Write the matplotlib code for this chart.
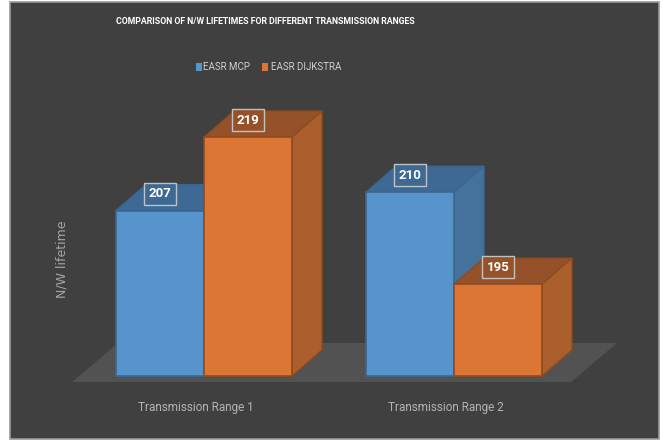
import matplotlib
matplotlib.use("Agg")
import matplotlib.pyplot as plt
from matplotlib.patches import Polygon, Rectangle

categories = ["Transmission Range 1", "Transmission Range 2"]
series_names = ["EASR MCP", "EASR DIJKSTRA"]
mcp = [207, 210]
dijkstra = [219, 195]
values = [mcp, dijkstra]

W, H = 663, 441
fig = plt.figure(figsize=(W / 100, H / 100), dpi=100, facecolor="white")

BG = "#404040"
# dark chart area with light border
fig.patches.append(Rectangle((10 / W, 2 / H), 649 / W, 437 / H, transform=fig.transFigure,
                             facecolor=BG, edgecolor="#9a9a9a", linewidth=1.2, zorder=-5))

ax = fig.add_axes([10 / W, 2 / H, 649 / W, 437 / H])
ax.set_facecolor("none")
ax.set_axis_off()

px_x = 250.0      # pixels per category unit
px_y = 6.125      # pixels per value unit
base = 180.0
ax.set_xlim((10 - 204) / px_x, (659 - 204) / px_x)
ax.set_ylim(base - (439 - 376) / px_y, base + (376 - 2) / px_y)

bw = 88 / px_x
ddx = 30 / px_x
ddy = 26 / px_y

front = ["#5794cb", "#dc7634"]
top = ["#3d6994", "#95522a"]
side = ["#45719d", "#ab5f2c"]
edge = ["#3a6790", "#8f4a1e"]

# floor
fl_x0 = -0.5 - 0.028
fl_x1 = 1.5 - 0.032
fdx = 46 / px_x
fdy = 39 / px_y
fy = base - 6 / px_y
ax.add_patch(Polygon([(fl_x0, fy), (fl_x1, fy), (fl_x1 + fdx, fy + fdy), (fl_x0 + fdx, fy + fdy)],
                     closed=True, facecolor="#525252", edgecolor="none", zorder=1))

FONT = ["Roboto", "DejaVu Sans"]

for gi in range(len(categories)):
    for si in range(len(series_names)):
        v = values[si][gi]
        x0 = gi + (si - 1) * bw
        x1 = x0 + bw
        z = 2 + gi * 10 + si * 3
        # top
        ax.add_patch(Polygon([(x0, v), (x1, v), (x1 + ddx, v + ddy), (x0 + ddx, v + ddy)],
                             closed=True, facecolor=top[si], edgecolor=edge[si], linewidth=1, zorder=z))
        # side
        ax.add_patch(Polygon([(x1, base), (x1 + ddx, base + ddy), (x1 + ddx, v + ddy), (x1, v)],
                             closed=True, facecolor=side[si], edgecolor=edge[si], linewidth=1, zorder=z))
        # front
        ax.bar(x0, v - base, width=bw, bottom=base, align="edge", color=front[si],
               edgecolor=edge[si], linewidth=1.2, zorder=z + 1)
        ax.text(x0 + bw / 2, v + 17 / px_y, f"{v}", ha="center", va="center", color="white",
                fontsize=9.5, fontweight="bold", family=FONT, zorder=50,
                bbox=dict(boxstyle="square,pad=0.35", facecolor=top[si], edgecolor="#c8c8c8",
                          linewidth=1, alpha=0.95))

for gi, cat in enumerate(categories):
    ax.text(gi - 8 / px_x, base - (407 - 376) / px_y, cat, ha="center", va="center",
            color="#b4b4b4", fontsize=8.5, family=FONT, zorder=50)

# title
fig.text(265 / W, 1 - 22 / H, "COMPARISON OF N/W LIFETIMES FOR DIFFERENT TRANSMISSION RANGES",
         ha="center", va="center", color="white", fontsize=6.3, fontweight="bold", family=FONT)

# legend
leg_y = 1 - 67 / H
fig.text(203 / W, leg_y, series_names[0], ha="left", va="center", color="#d0d0d0", fontsize=7,
         family=FONT)
fig.text(271 / W, leg_y, series_names[1], ha="left", va="center", color="#d0d0d0", fontsize=7,
         family=FONT)
fig.patches.append(Rectangle((196 / W, leg_y - 4 / H), 6 / W, 8 / H, transform=fig.transFigure,
                             facecolor=front[0], edgecolor="none"))
fig.patches.append(Rectangle((262 / W, leg_y - 4 / H), 6 / W, 8 / H, transform=fig.transFigure,
                             facecolor=front[1], edgecolor="none"))

# y label
fig.text(62 / W, 1 - 259 / H, "N/W lifetime", rotation=90, ha="center", va="center",
         color="#a6a6a6", fontsize=9, family=["DejaVu Sans"])

fig.savefig("out.png", dpi=100, facecolor="white")
